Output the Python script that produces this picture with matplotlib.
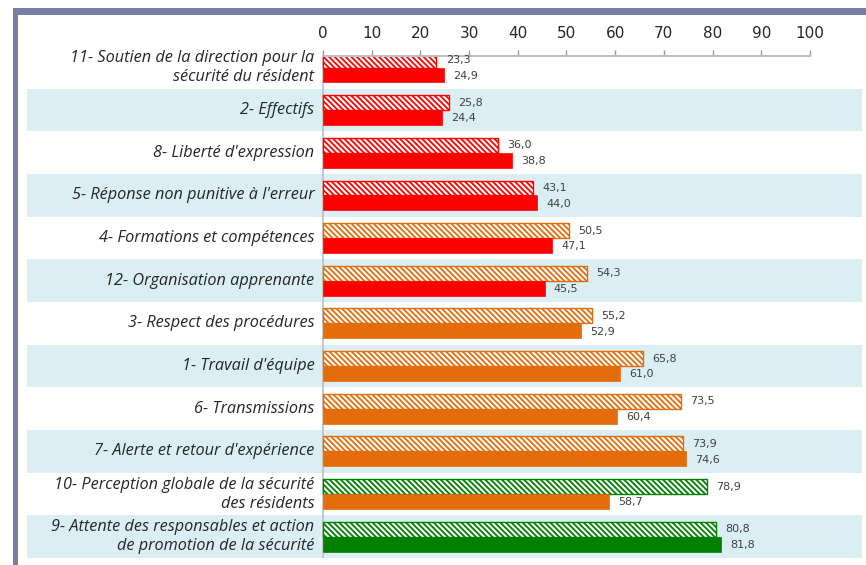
import matplotlib
matplotlib.use('Agg')
from matplotlib import pyplot as plt
from matplotlib.patches import Rectangle

categories = ["11- Soutien de la direction pour la\nsécurité du résident",
              "2- Effectifs",
              "8- Liberté d'expression",
              "5- Réponse non punitive à l'erreur",
              "4- Formations et compétences",
              "12- Organisation apprenante",
              "3- Respect des procédures",
              "1- Travail d'équipe",
              "6- Transmissions",
              "7- Alerte et retour d'expérience",
              "10- Perception globale de la sécurité\ndes résidents",
              "9- Attente des responsables et action\nde promotion de la sécurité"]
hatched_vals = [23.3, 25.8, 36.0, 43.1, 50.5, 54.3, 55.2, 65.8, 73.5, 73.9, 78.9, 80.8]
solid_vals = [24.9, 24.4, 38.8, 44.0, 47.1, 45.5, 52.9, 61.0, 60.4, 74.6, 58.7, 81.8]
xticks = [0, 10, 20, 30, 40, 50, 60, 70, 80, 90, 100]


def score_color(v):
    if v < 50:
        return '#FF0000'
    if v < 75:
        return '#E46C0A'
    return '#008000'


plt.rcParams['hatch.linewidth'] = 1.3
fig = plt.figure(figsize=(8.66, 5.65), dpi=100)

# outer frame (top + left border)
frame_col = '#7980A8'
fig.add_artist(Rectangle((13 / 866, 1 - 15 / 565), 1, 7 / 565, transform=fig.transFigure,
                         color=frame_col, lw=0))
fig.add_artist(Rectangle((13 / 866, 0), 5 / 866, 1 - 8 / 565, transform=fig.transFigure,
                         color=frame_col, lw=0))

ax = fig.add_axes([27 / 866, 1 - 558 / 565, 835 / 866, (558 - 56) / 565])
ax.set_xlim(-60.8, 110.7)
ax.set_ylim(11.5, -0.27)

h = 0.35
for i, (a, b) in enumerate(zip(hatched_vals, solid_vals)):
    if i % 2 == 1:
        ax.axhspan(i - 0.5, i + 0.5, color='#DAEEF3', lw=0, zorder=0)
    ca = score_color(a)
    cb = score_color(b)
    ax.barh(i - h / 2, a, height=h, color='white', edgecolor=ca, hatch='\\' * 6, lw=1.0, zorder=2)
    ax.barh(i + h / 2, b, height=h, color=cb, edgecolor=cb, lw=0.5, zorder=2)
    ax.text(a + 1.9, i - h / 2, f'{a:.1f}'.replace('.', ','), va='center', ha='left',
            fontsize=8, color='#404040', zorder=3)
    ax.text(b + 1.9, i + h / 2 + 0.02, f'{b:.1f}'.replace('.', ','), va='center', ha='left',
            fontsize=8, color='#404040', zorder=3)
    ax.text(-1.8, i, categories[i], ha='right', va='center', fontsize=11.7, style='italic',
            color='#262626', linespacing=1.25, family='Open Sans', zorder=3)

ax.axvline(0, color='#BFBFBF', lw=1.2, zorder=1)
for s in ['left', 'right', 'bottom']:
    ax.spines[s].set_visible(False)
ax.spines['top'].set_bounds(0, 100)
ax.spines['top'].set_color('#BFBFBF')
ax.spines['top'].set_linewidth(1.5)
ax.xaxis.tick_top()
ax.set_xticks(xticks)
ax.set_xticklabels([str(t) for t in xticks])
ax.tick_params(axis='x', direction='out', length=4, width=1, color='#9A9A9A',
               labelsize=11, labelcolor='#262626', pad=7)
ax.set_yticks([])

fig.savefig('out.png', dpi=100)
